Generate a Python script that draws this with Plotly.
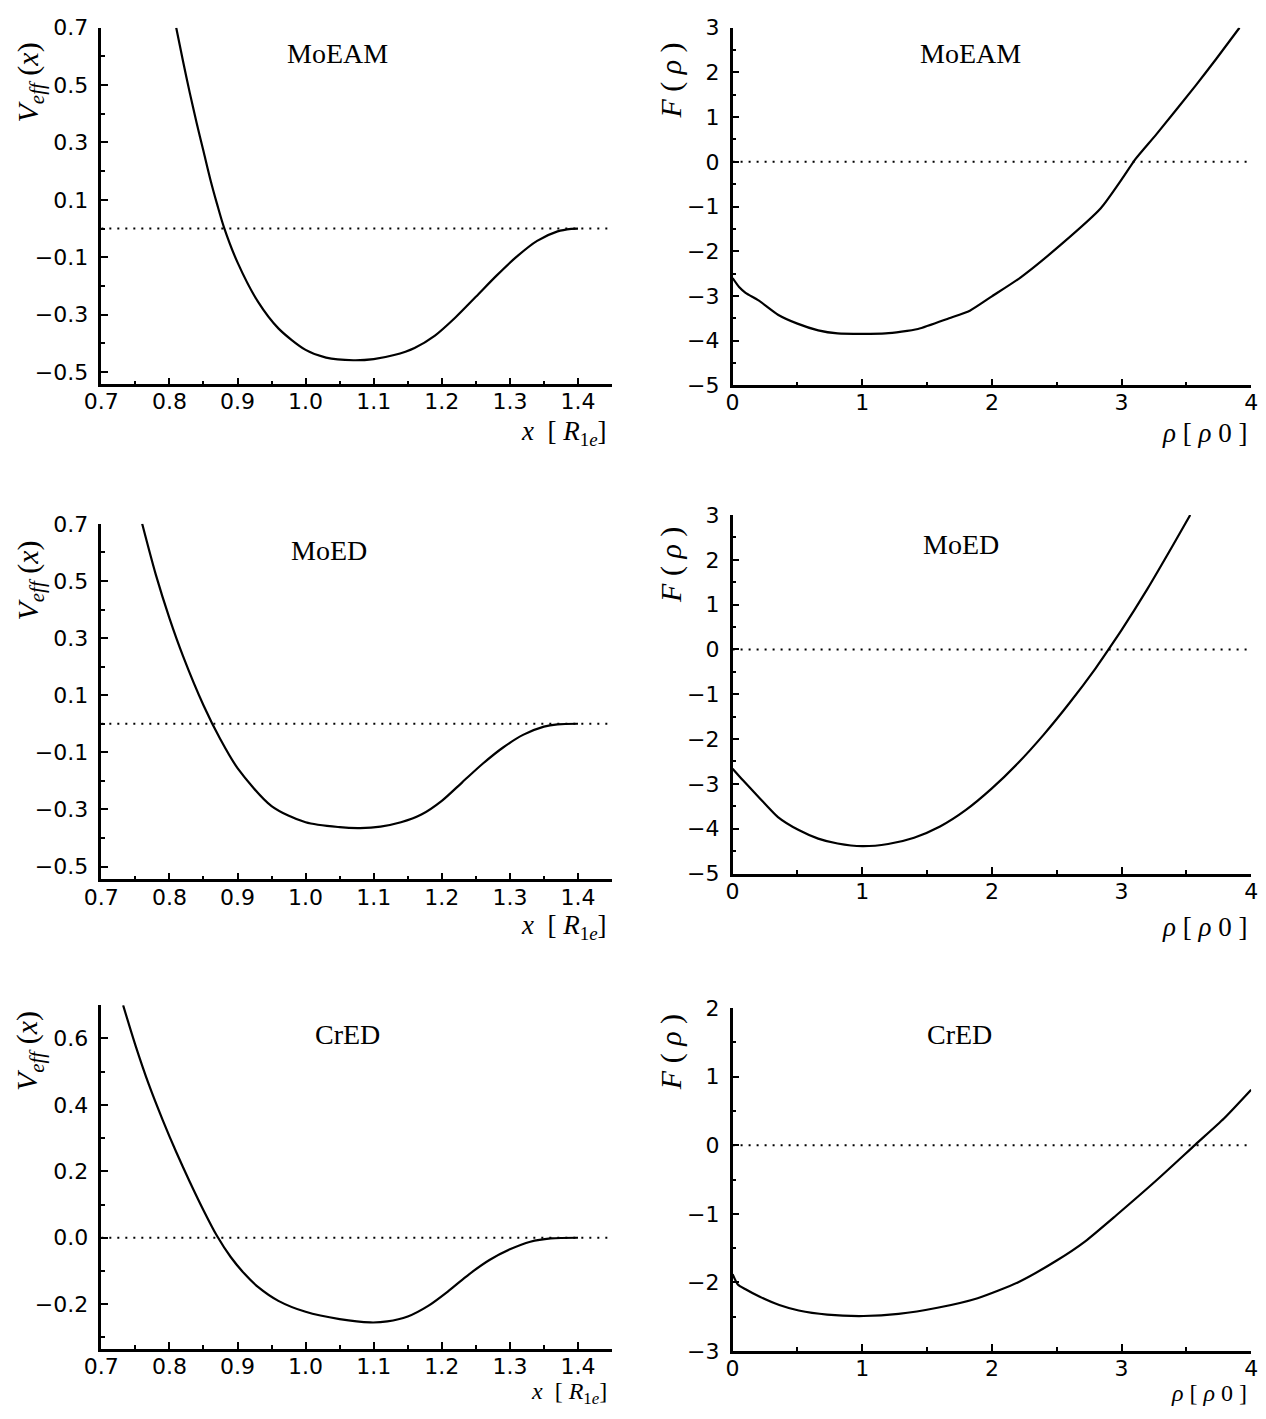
import plotly.graph_objects as go

# ---- data ----
# effective pair potentials V_eff(x), x in units of R_1e
x_moeam = [0.810, 0.820, 0.830, 0.840, 0.850, 0.860, 0.870, 0.880, 0.900, 0.930, 0.960, 1.000,
           1.030, 1.070, 1.100, 1.130, 1.160, 1.190, 1.220, 1.250, 1.280, 1.310, 1.340, 1.370,
           1.390, 1.400]
v_moeam = [0.700, 0.583, 0.472, 0.368, 0.270, 0.172, 0.085, 0.005, -0.118, -0.255, -0.348, -0.423,
           -0.450, -0.459, -0.455, -0.441, -0.416, -0.373, -0.310, -0.238, -0.165, -0.098, -0.043, -0.010,
           -0.001, 0.000]

x_moed = [0.760, 0.780, 0.800, 0.820, 0.850, 0.875, 0.900, 0.950, 1.000, 1.050, 1.080, 1.110,
          1.140, 1.170, 1.200, 1.230, 1.260, 1.290, 1.320, 1.350, 1.370, 1.400]
v_moed = [0.700, 0.522, 0.370, 0.237, 0.065, -0.055, -0.155, -0.288, -0.345, -0.362, -0.365, -0.360,
          -0.345, -0.318, -0.270, -0.205, -0.140, -0.083, -0.038, -0.010, -0.002, 0.000]

x_cred = [0.732, 0.750, 0.770, 0.790, 0.810, 0.830, 0.850, 0.870, 0.890, 0.910, 0.930, 0.960,
          1.000, 1.050, 1.095, 1.120, 1.150, 1.180, 1.210, 1.240, 1.270, 1.300, 1.330, 1.360,
          1.400]
v_cred = [0.700, 0.580, 0.460, 0.355, 0.258, 0.168, 0.083, 0.005, -0.058, -0.108, -0.148, -0.190,
          -0.223, -0.245, -0.255, -0.252, -0.237, -0.205, -0.160, -0.110, -0.067, -0.035, -0.012, -0.002,
          0.000]

# embedding functions F(rho), rho in units of rho_0
rho_moeam = [0.00, 0.05, 0.10, 0.20, 0.35, 0.50, 0.66, 0.81, 1.00, 1.18, 1.43, 1.67, 1.83, 2.00,
             2.22, 2.53, 2.84, 3.00, 3.11, 3.27, 3.57, 3.73, 3.91]
f_moeam = [-2.60, -2.80, -2.93, -3.10, -3.42, -3.62, -3.77, -3.84, -3.85, -3.84, -3.74, -3.50,
           -3.33, -3.01, -2.59, -1.86, -1.04, -0.40, 0.07, 0.62, 1.70, 2.30, 3.00]

rho_moed = [0.00, 0.08, 0.20, 0.35, 0.51, 0.66, 0.81, 1.00, 1.20, 1.40, 1.60, 1.80, 2.00, 2.20,
            2.40, 2.60, 2.80, 2.90, 3.00, 3.20, 3.40, 3.53]
f_moed = [-2.66, -2.92, -3.29, -3.74, -4.03, -4.22, -4.33, -4.39, -4.34, -4.20, -3.95, -3.58,
          -3.10, -2.54, -1.90, -1.19, -0.42, 0.00, 0.43, 1.35, 2.34, 3.00]

rho_cred = [0.00, 0.04, 0.10, 0.21, 0.36, 0.51, 0.73, 1.01, 1.28, 1.58, 1.89, 2.20, 2.50, 2.72,
            2.96, 3.27, 3.57, 3.79, 4.00]
f_cred = [-1.88, -2.03, -2.10, -2.21, -2.33, -2.41, -2.47, -2.49, -2.46, -2.37, -2.23, -2.00,
          -1.68, -1.40, -1.02, -0.51, 0.01, 0.39, 0.81]

labels = ["MoEAM", "MoED", "CrED"]
xlim_left = [0.7, 1.45]
xlim_right = [0, 4]

# ---- layout in page pixels ----
W, H = 1266, 1419
left_px = (85, 606)
right_px = (729, 1258)
rows_left = [(16, 379), (521, 883), (1011, 1361)]
rows_right = [(16, 380), (512, 877), (1014, 1363)]

tickfont = dict(family="DejaVu Sans, Arial, sans-serif", size=22, color="black")
serif = "Liberation Serif, Times New Roman, serif"

fig = go.Figure()

panels = [
    (x_moeam, v_moeam, "left", 0, xlim_left, [-0.543, 0.7], 0.2, -0.5, ".1f"),
    (rho_moeam, f_moeam, "right", 0, xlim_right, [-5, 3], 1, 0, "d"),
    (x_moed, v_moed, "left", 1, xlim_left, [-0.545, 0.7], 0.2, -0.5, ".1f"),
    (rho_moed, f_moed, "right", 1, xlim_right, [-5, 3], 1, 0, "d"),
    (x_cred, v_cred, "left", 2, xlim_left, [-0.335, 0.7], 0.2, 0.0, ".1f"),
    (rho_cred, f_cred, "right", 2, xlim_right, [-3, 2], 1, 0, "d"),
]

layout = {}
for i, (xs, ys, side, row, xr, yr, ydt, y0, yfmt) in enumerate(panels, start=1):
    xpx = left_px if side == "left" else right_px
    ypx = rows_left[row] if side == "left" else rows_right[row]
    xname = "x" if i == 1 else f"x{i}"
    yname = "y" if i == 1 else f"y{i}"

    # dotted zero line
    fig.add_trace(go.Scatter(x=xr, y=[0, 0], xaxis=xname, yaxis=yname, mode="lines",
                             line=dict(color="black", width=2, dash="2px,6px"),
                             showlegend=False, hoverinfo="skip"))
    fig.add_trace(go.Scatter(x=xs, y=ys, xaxis=xname, yaxis=yname, mode="lines",
                             line=dict(color="black", width=2.2, shape="spline",
                                       smoothing=0.8 if side == "left" else 0.6),
                             showlegend=False))

    if side == "left":
        xdt, xminor, xfmt, yminor = 0.1, 0.05, ".1f", 0.1
    else:
        xdt, xminor, xfmt, yminor = 1, 0.5, "d", 0.5

    layout["xaxis" if i == 1 else f"xaxis{i}"] = dict(
        domain=[xpx[0] / W, xpx[1] / W], anchor=yname, range=xr,
        showline=True, linecolor="black", linewidth=2.5, mirror=False,
        showgrid=False, zeroline=False, ticks="inside", ticklen=7, tickwidth=2,
        tickcolor="black", dtick=xdt, tick0=0, tickformat=xfmt, tickfont=tickfont,
        ticklabelstandoff=-4, ticklabeloverflow="allow",
        minor=dict(ticks="inside", ticklen=4, tickwidth=1.5, dtick=xminor, tickcolor="black"),
    )
    layout["yaxis" if i == 1 else f"yaxis{i}"] = dict(
        domain=[1 - ypx[1] / H, 1 - ypx[0] / H], anchor=xname, range=yr,
        showline=True, linecolor="black", linewidth=2.5, mirror=False,
        showgrid=False, zeroline=False, ticks="inside", ticklen=7, tickwidth=2,
        tickcolor="black", dtick=ydt, tick0=y0, tickformat=yfmt, tickfont=tickfont,
        ticklabelstandoff=6, ticklabeloverflow="allow",
        minor=dict(ticks="inside", ticklen=4, tickwidth=1.5, dtick=yminor, tickcolor="black"),
    )

# text positions (page pixels)
title_left = [(326, 42), (317, 548), (336, 1041)]
title_right = [(972, 42), (962, 542), (960, 1041)]
ytitle_left = [(12, 72), (12, 579), (12, 1058)]
ytitle_right = [(666, 70), (666, 563), (666, 1059)]
xtitle_y = [429, 931, 1406]
xtitle_size = [27, 27, 24]

annotations = []


def ann(text, px, py, size, xanchor="center", angle=0):
    return dict(text=text, x=px / W, y=1 - py / H, xref="paper", yref="paper",
                xanchor=xanchor, yanchor="middle", showarrow=False, textangle=angle,
                font=dict(family=serif, size=size, color="black"))


for row in range(3):
    annotations.append(ann(labels[row], *title_left[row], 28))
    annotations.append(ann(labels[row], *title_right[row], 28))
    annotations.append(ann("<i>V<sub>eff</sub></i> (<i>x</i>)", *ytitle_left[row], 30, angle=-90))
    annotations.append(ann("<i>F</i> ( <i>ρ</i> )", *ytitle_right[row], 30, angle=-90))
    annotations.append(ann("<i>x</i>  [ <i>R</i><sub>1<i>e</i></sub>]", 603, xtitle_y[row],
                           xtitle_size[row], xanchor="right"))
    annotations.append(ann("<i>ρ</i> [ <i>ρ</i> 0 ]", 1256, xtitle_y[row],
                           xtitle_size[row], xanchor="right"))

fig.update_layout(width=W, height=H, margin=dict(l=0, r=0, t=0, b=0),
                  plot_bgcolor="white", paper_bgcolor="white",
                  annotations=annotations, showlegend=False, **layout)

fig.write_html("out.html", config={"displayModeBar": False},
               post_script="document.body.style.margin='0px';")
